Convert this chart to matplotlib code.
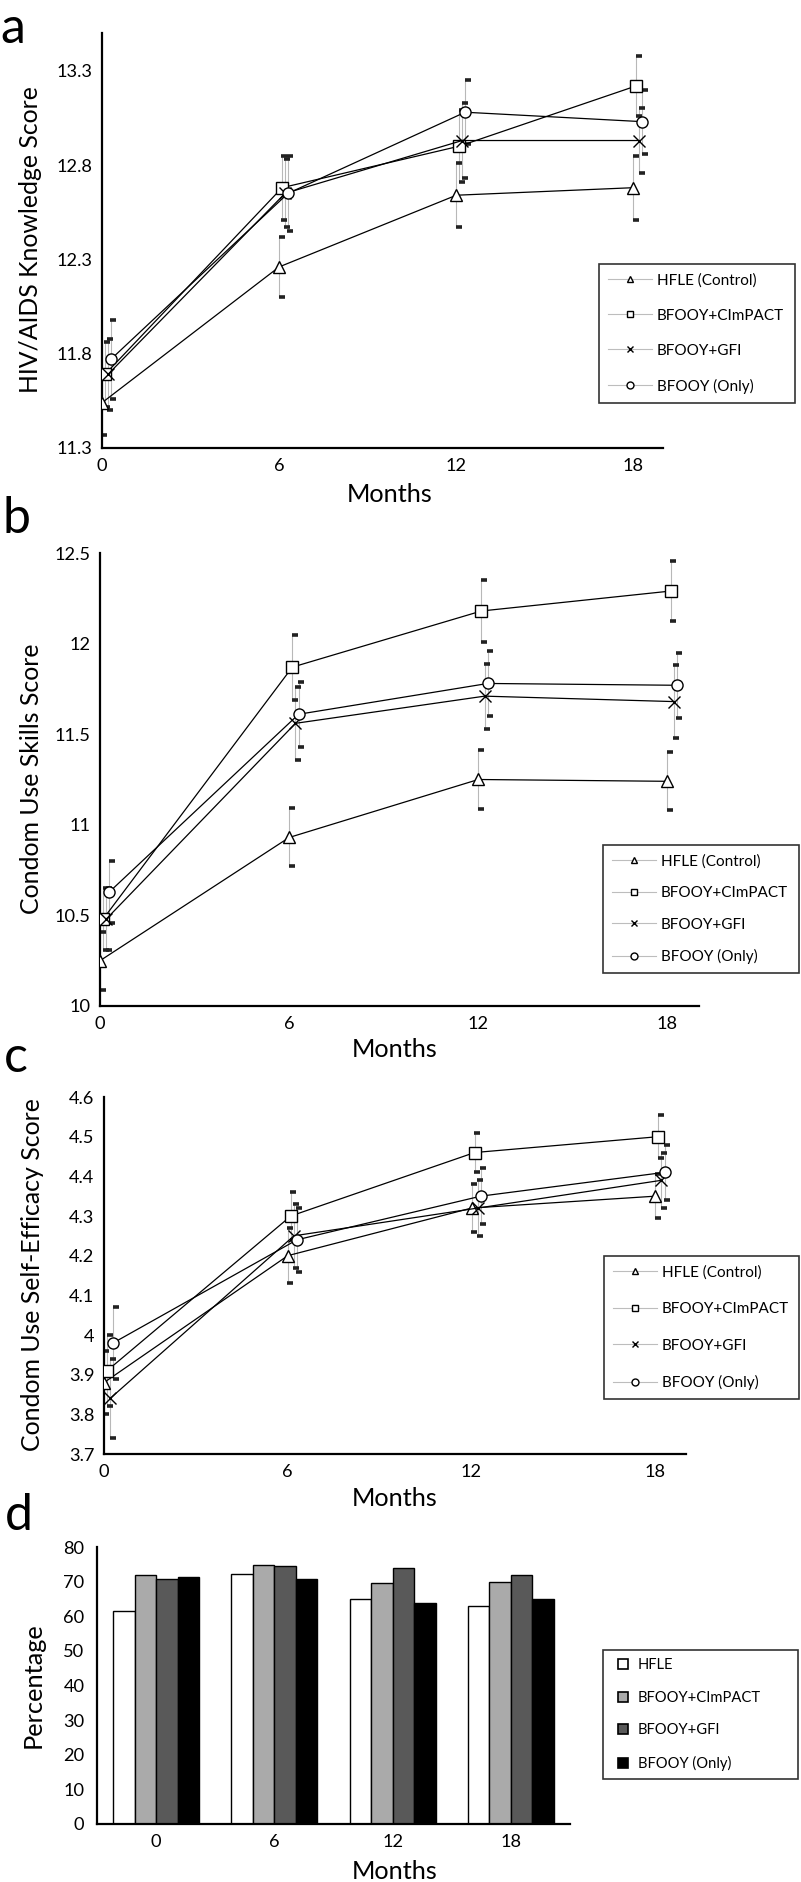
import matplotlib
matplotlib.use("Agg")
import matplotlib.pyplot as plt
from matplotlib.lines import Line2D
import numpy as np

plt.rcParams['font.family'] = ['Lato', 'DejaVu Sans']

# ---------------- data ----------------
months = [0, 6, 12, 18]
groups = ['HFLE (Control)', 'BFOOY+CImPACT', 'BFOOY+GFI', 'BFOOY (Only)']
bar_groups = ['HFLE', 'BFOOY+CImPACT', 'BFOOY+GFI', 'BFOOY (Only)']

knowledge_hfle = [11.54, 12.26, 12.64, 12.68]
knowledge_cimpact = [11.69, 12.68, 12.90, 13.22]
knowledge_gfi = [11.69, 12.65, 12.93, 12.93]
knowledge_only = [11.77, 12.65, 13.08, 13.03]
knowledge_err_hfle = [0.17, 0.16, 0.17, 0.17]
knowledge_err_cimpact = [0.17, 0.17, 0.19, 0.16]
knowledge_err_gfi = [0.19, 0.18, 0.20, 0.17]
knowledge_err_only = [0.21, 0.20, 0.17, 0.17]

skills_hfle = [10.25, 10.93, 11.25, 11.24]
skills_cimpact = [10.48, 11.87, 12.18, 12.29]
skills_gfi = [10.48, 11.56, 11.71, 11.68]
skills_only = [10.63, 11.61, 11.78, 11.77]
skills_err_hfle = [0.16, 0.16, 0.165, 0.16]
skills_err_cimpact = [0.17, 0.18, 0.17, 0.165]
skills_err_gfi = [0.17, 0.20, 0.18, 0.20]
skills_err_only = [0.17, 0.18, 0.18, 0.18]

efficacy_hfle = [3.88, 4.20, 4.32, 4.35]
efficacy_cimpact = [3.91, 4.30, 4.46, 4.50]
efficacy_gfi = [3.84, 4.25, 4.32, 4.39]
efficacy_only = [3.98, 4.24, 4.35, 4.41]
efficacy_err_hfle = [0.08, 0.07, 0.06, 0.055]
efficacy_err_cimpact = [0.09, 0.06, 0.05, 0.055]
efficacy_err_gfi = [0.10, 0.08, 0.07, 0.07]
efficacy_err_only = [0.09, 0.08, 0.07, 0.07]

pct_hfle = [61.5, 72.2, 65.0, 63.0]
pct_cimpact = [71.9, 74.8, 69.6, 69.9]
pct_gfi = [70.8, 74.6, 73.9, 71.9]
pct_only = [71.3, 70.8, 63.8, 65.0]

# ---------------- style ----------------
W, H = 801, 1882
fig = plt.figure(figsize=(W / 100, H / 100), dpi=100)
renderer = fig.canvas.get_renderer()


def fx(px):
    return px / W


def fy(py):
    return 1 - py / H


def fit_size(s, target_px, base=10.0):
    """font size so that string s is target_px wide (in pixels)."""
    t = fig.text(0, 0, s, fontsize=base)
    w = t.get_window_extent(renderer).width
    t.remove()
    return base * target_px / w


markers = ['^', 's', 'x', 'o']
jitter = [0.0, 0.1, 0.2, 0.3]
TICK_FS = fit_size('13.3', 36)
LEG_FS = fit_size('HFLE (Control)', 99)
LEGD_FS = fit_size('BFOOY+CImPACT', 122)
MONTHS_FS = fit_size('Months', 86)
PANEL_FS = 36


def add_axes(l, t, r, b):
    return fig.add_axes([fx(l), fy(b), fx(r - l), (b - t) / H])


def style_axes(ax):
    for s in ['top', 'right']:
        ax.spines[s].set_visible(False)
    for s in ['left', 'bottom']:
        ax.spines[s].set_linewidth(1.6)
        ax.spines[s].set_color('black')
    ax.tick_params(length=0, labelsize=TICK_FS, pad=7)


def line_panel(ax, series, errs, ylim, yticks, yticklabels):
    for i, (vals, err) in enumerate(zip(series, errs)):
        x = np.array(months, dtype=float) + jitter[i]
        vals = np.array(vals)
        err = np.array(err)
        ax.errorbar(x, vals, yerr=err, fmt='none', ecolor='#b8b8b8',
                    elinewidth=0.8, capsize=0, zorder=1)
        ax.plot(x + 0.08, vals + err, linestyle='none', marker='_',
                color='#222222', ms=4, mew=2.6, zorder=2)
        ax.plot(x + 0.08, vals - err, linestyle='none', marker='_',
                color='#222222', ms=4, mew=2.6, zorder=2)
        ax.plot(x, vals, color='black', lw=0.9, marker=markers[i],
                mfc='white', mec='black', mew=1.0, ms=8, zorder=3)
    ax.set_xlim(0, 19)
    ax.set_ylim(*ylim)
    ax.set_xticks(months)
    ax.set_xticklabels([str(m) for m in months])
    ax.set_yticks(yticks)
    ax.set_yticklabels(yticklabels)
    style_axes(ax)


def line_legend(left, top, right, spacing):
    handles = [Line2D([0], [0], color='#bdbdbd', lw=0.8, marker=m,
                      mfc='white', mec='black', mew=1.0, ms=5)
               for m in markers]
    leg = fig.legend(handles, groups, loc='upper left',
                     bbox_to_anchor=(fx(left), fy(top), fx(right - left), 0.001),
                     bbox_transform=fig.transFigure, mode='expand',
                     borderaxespad=0, fontsize=LEG_FS, handlelength=2.9,
                     handletextpad=0.3, labelspacing=spacing, borderpad=0.6,
                     fancybox=False, frameon=True, edgecolor='black')
    leg.get_frame().set_linewidth(1.2)
    return leg

# ---------------- panel a ----------------
axa = add_axes(102, 33, 663, 448)
line_panel(axa, [knowledge_hfle, knowledge_cimpact, knowledge_gfi, knowledge_only],
           [knowledge_err_hfle, knowledge_err_cimpact, knowledge_err_gfi, knowledge_err_only],
           (11.3, 13.5), [11.3, 11.8, 12.3, 12.8, 13.3],
           ['11.3', '11.8', '12.3', '12.8', '13.3'])
line_legend(599, 266, 795, 1.38)

# ---------------- panel b ----------------
axb = add_axes(100, 553, 699, 1006)
line_panel(axb, [skills_hfle, skills_cimpact, skills_gfi, skills_only],
           [skills_err_hfle, skills_err_cimpact, skills_err_gfi, skills_err_only],
           (10, 12.5), [10, 10.5, 11, 11.5, 12, 12.5],
           ['10', '10.5', '11', '11.5', '12', '12.5'])
line_legend(603, 847, 799, 1.15)

# ---------------- panel c ----------------
axc = add_axes(104, 1097, 686, 1454)
line_panel(axc, [efficacy_hfle, efficacy_cimpact, efficacy_gfi, efficacy_only],
           [efficacy_err_hfle, efficacy_err_cimpact, efficacy_err_gfi, efficacy_err_only],
           (3.7, 4.6), [3.7, 3.8, 3.9, 4.0, 4.1, 4.2, 4.3, 4.4, 4.5, 4.6],
           ['3.7', '3.8', '3.9', '4', '4.1', '4.2', '4.3', '4.4', '4.5', '4.6'])
line_legend(604, 1258, 799, 1.48)

# ---------------- panel d ----------------
axd = add_axes(97, 1547, 570, 1824)
bar_colors = ['white', '#aaaaaa', '#595959', 'black']
bw = 0.182
xi = np.arange(len(months))
for i, vals in enumerate([pct_hfle, pct_cimpact, pct_gfi, pct_only]):
    axd.bar(xi + (i - 1.5) * bw, vals, width=bw, color=bar_colors[i],
            edgecolor='black', linewidth=1.0, label=bar_groups[i])
axd.set_xlim(-0.5, 3.5)
axd.set_ylim(0, 80)
axd.set_yticks(range(0, 81, 10))
axd.set_xticks(xi)
axd.set_xticklabels([str(m) for m in months])
style_axes(axd)
axd.tick_params(axis='y', pad=9)
bar_handles = [Line2D([0], [0], linestyle='none', marker='s', ms=6.5,
                      mfc=c, mec='black', mew=1.2) for c in bar_colors]
legd = fig.legend(bar_handles, bar_groups, loc='upper left',
                  bbox_to_anchor=(fx(603), fy(1652), fx(798 - 603), 0.001),
                  bbox_transform=fig.transFigure, mode='expand',
                  borderaxespad=0, fontsize=LEGD_FS, handlelength=1.6,
                  handletextpad=0.2, labelspacing=1.25,
                  borderpad=0.55, fancybox=False, frameon=True, edgecolor='black')
legd.get_frame().set_linewidth(1.2)

# ---------------- axis titles ----------------
ylabels = [('HIV/AIDS Knowledge Score', 31, 240, 305),
           ('Condom Use Skills Score', 32, 779, 272),
           ('Condom Use Self-Efficacy Score', 33, 1275, 354),
           ('Percentage', 33, 1685, 126)]
for s, xc, yc, length in ylabels:
    fig.text(fx(xc), fy(yc), s, rotation=90, ha='center', va='center',
             fontsize=fit_size(s, length))

for xc, yb in [(390, 502), (395, 1057), (395, 1506), (395, 1879)]:
    fig.text(fx(xc), fy(yb), 'Months', ha='center', va='baseline', fontsize=MONTHS_FS)

for lab, xl, yb in [('a', 0, 43), ('b', 2, 533), ('c', 4, 1072), ('d', 5, 1530)]:
    fig.text(fx(xl), fy(yb), lab, ha='left', va='baseline', fontsize=PANEL_FS)

fig.savefig('out.png', dpi=100)
